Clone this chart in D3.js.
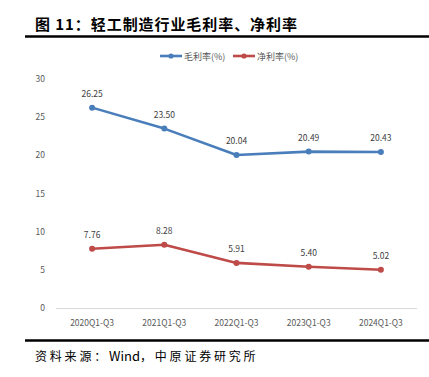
<!DOCTYPE html>
<html>
<head>
<meta charset="utf-8">
<script src="https://cdn.jsdelivr.net/npm/d3@7"></script>
<style>
  body { margin: 0; background: #fff; }
  svg { display: block; font-family: "Noto Sans CJK SC", "Noto Sans", sans-serif; }
</style>
</head>
<body>
<div id="container"></div>
<script>
let categories = ["2020Q1-Q3", "2021Q1-Q3", "2022Q1-Q3", "2023Q1-Q3", "2024Q1-Q3"];
let grossMargin = [26.25, 23.50, 20.04, 20.49, 20.43];
let netMargin = [7.76, 8.28, 5.91, 5.40, 5.02];
let yTicks = [0, 5, 10, 15, 20, 25, 30];

let w = 429;
let h = 377;

let viz = d3.select("#container")
  .append("svg")
    .attr("width", w)
    .attr("height", h);

// title + rules
viz.append("text")
  .attr("x", 35).attr("y", 30)
  .attr("font-size", 15).attr("font-weight", "bold").attr("fill", "#000")
  .attr("textLength", 262).attr("lengthAdjust", "spacing")
  .text("图 11：轻工制造行业毛利率、净利率");
viz.append("line")
  .attr("x1", 25).attr("x2", w).attr("y1", 36.5).attr("y2", 36.5)
  .attr("stroke", "#000").attr("stroke-width", 2.5);
viz.append("line")
  .attr("x1", 25).attr("x2", w).attr("y1", 340.5).attr("y2", 340.5)
  .attr("stroke", "#000").attr("stroke-width", 2.5);

// source: spaced cjk, normal latin
let src = viz.append("text")
  .attr("x", 35).attr("y", 361)
  .attr("font-size", 12).attr("fill", "#000");
src.append("tspan").attr("letter-spacing", 2.8).text("资料来源：");
src.append("tspan").attr("font-size", 13).text("Wind");
src.append("tspan").attr("letter-spacing", 2.8).text("，中原证券研究所");

// scales
let xScale = d3.scaleBand().domain(categories).range([56, 417]);
let yScale = d3.scaleLinear().domain([0, 30]).range([308, 79]);

// y labels
viz.append("g").selectAll("text")
  .data(yTicks).enter().append("text")
    .attr("x", 45).attr("y", d => yScale(d) + 3)
    .attr("text-anchor", "end")
    .attr("font-size", 8.5).attr("fill", "#595959")
    .text(d => d);

// x axis line
viz.append("line")
  .attr("x1", 56).attr("x2", 417).attr("y1", 308.5).attr("y2", 308.5)
  .attr("stroke", "#d9d9d9").attr("stroke-width", 1);

viz.append("g").selectAll("text")
  .data(categories).enter().append("text")
    .attr("x", d => xScale(d) + xScale.bandwidth() / 2)
    .attr("y", 326)
    .attr("text-anchor", "middle")
    .attr("font-size", 8.5).attr("fill", "#595959")
    .text(d => d);

let series = [
  { name: "毛利率(%)", values: grossMargin, color: "#4a7ebb" },
  { name: "净利率(%)", values: netMargin, color: "#be4b48" }
];

let line = d3.line()
  .x((d, i) => xScale(categories[i]) + xScale.bandwidth() / 2)
  .y(d => yScale(d));

series.forEach(s => {
  viz.append("path")
    .datum(s.values)
    .attr("d", line)
    .attr("fill", "none")
    .attr("stroke", s.color)
    .attr("stroke-width", 2.6)
    .attr("stroke-linejoin", "round");

  viz.append("g").selectAll("circle")
    .data(s.values).enter().append("circle")
      .attr("cx", (d, i) => xScale(categories[i]) + xScale.bandwidth() / 2)
      .attr("cy", d => yScale(d))
      .attr("r", 3)
      .attr("fill", s.color);

  viz.append("g").selectAll("text")
    .data(s.values).enter().append("text")
      .attr("x", (d, i) => xScale(categories[i]) + xScale.bandwidth() / 2)
      .attr("y", d => yScale(d) - 11)
      .attr("text-anchor", "middle")
      .attr("font-size", 8.5).attr("fill", "#404040")
      .text(d => d.toFixed(2));
});

// legend
let legendX = [160, 233];
series.forEach((s, i) => {
  let g = viz.append("g").attr("transform", "translate(" + legendX[i] + ",56)");
  g.append("line").attr("x1", 0).attr("x2", 22).attr("y1", 0).attr("y2", 0)
    .attr("stroke", s.color).attr("stroke-width", 2.6);
  g.append("circle").attr("cx", 11).attr("cy", 0).attr("r", 2.6).attr("fill", s.color);
  g.append("text").attr("x", 24).attr("y", 3.5)
    .attr("font-size", 9).attr("fill", "#595959")
    .text(s.name);
});
</script>
</body>
</html>
